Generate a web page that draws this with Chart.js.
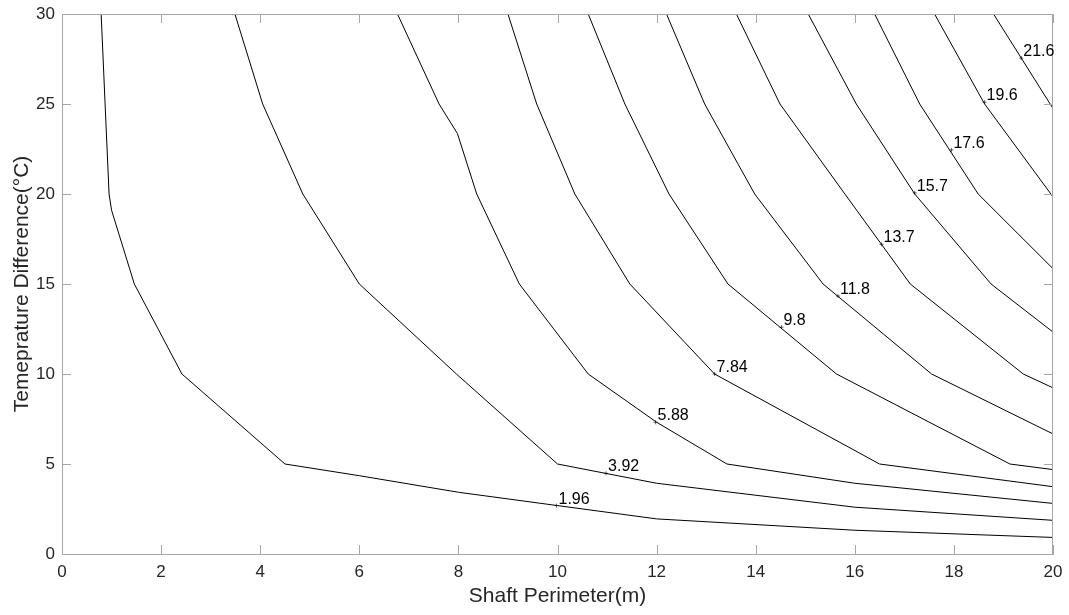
<!DOCTYPE html>
<html><head><meta charset="utf-8">
<script src="https://cdn.jsdelivr.net/npm/chart.js@4/dist/chart.umd.min.js"></script>
<style>html,body{margin:0;padding:0;background:#fff;}#wrap{width:1069px;height:615px;}</style>
</head><body><div id="wrap"><canvas id="c" width="1069" height="615"></canvas></div>
<script>
// Contour levels (labels)
const levels = ['1.96','3.92','5.88','7.84','9.8','11.8','13.7','15.7','17.6','19.6','21.6'];

// Contour polylines: x = shaft perimeter (m), y = temperature difference (°C)
const c1x = [0.79, 0.87, 0.95, 1.0, 1.46, 2.42, 4.5, 6, 8, 10, 12, 16, 20];
const c1y = [30, 25, 20, 19.1, 15, 10, 5, 4.35, 3.43, 2.69, 1.95, 1.32, 0.92];
const c2x = [3.49, 4.05, 4.86, 6.0, 7.96, 10.0, 12.0, 16.0, 20];
const c2y = [30, 25, 20, 15, 10, 5, 3.93, 2.6, 1.87];
const c3x = [6.77, 7.61, 7.98, 8.37, 9.23, 10.62, 12.0, 13.42, 16.0, 20];
const c3y = [30, 25, 23.36, 20, 15, 10, 7.32, 5, 3.93, 2.81];
const c4x = [9.0, 9.58, 10.35, 11.46, 13.17, 16.5, 20];
const c4y = [30, 25, 20, 15, 10, 5, 3.74];
const c5x = [10.62, 11.36, 12.25, 13.44, 15.63, 19.13, 20];
const c5y = [30, 25, 20, 15, 10, 5, 4.69];
const c6x = [12.2, 12.97, 13.98, 15.36, 17.55, 20];
const c6y = [30, 25, 20, 15, 10, 6.67];
const c7x = [13.61, 14.49, 15.8, 17.12, 19.4, 20];
const c7y = [30, 25, 20, 15, 10, 9.23];
const c8x = [15.06, 16.03, 17.21, 18.75, 20];
const c8y = [30, 25, 20, 15, 12.33];
const c9x = [16.4, 17.31, 18.49, 20];
const c9y = [30, 25, 20, 15.85];
const c10x = [17.61, 18.62, 20];
const c10y = [30, 25, 19.84];
const c11x = [18.8, 20];
const c11y = [30, 24.75];

// Contour label anchor points (data units)
const labelX = [9.98, 10.98, 11.98, 13.17, 14.52, 15.66, 16.54, 17.21, 17.95, 18.62, 19.36];
const labelY = [2.69, 4.48, 7.32, 10, 12.6, 14.33, 17.2, 20.06, 22.45, 25.1, 27.55];

// Axis ticks
const xTicks = [0, 2, 4, 6, 8, 10, 12, 14, 16, 18, 20];
const yTicks = [0, 5, 10, 15, 20, 25, 30];

const lineXs = [c1x, c2x, c3x, c4x, c5x, c6x, c7x, c8x, c9x, c10x, c11x];
const lineYs = [c1y, c2y, c3y, c4y, c5y, c6y, c7y, c8y, c9y, c10y, c11y];

const FONT = '"Liberation Sans", Arial, Helvetica, sans-serif';
const AXIS_COLOR = '#a6a6a6';
const TEXT_COLOR = '#262626';

const datasets = lineXs.map((xs, i) => ({
  label: levels[i],
  data: xs.map((x, j) => ({x: x, y: lineYs[i][j]})),
  showLine: true,
  borderColor: '#000',
  borderWidth: 1,
  pointRadius: 0,
  tension: 0,
  fill: false
}));

const framePlugin = {
  id: 'frame',
  afterDatasetsDraw(chart) {
    const {ctx, chartArea: a, scales: {x, y}} = chart;
    ctx.save();
    ctx.strokeStyle = AXIS_COLOR;
    ctx.lineWidth = 1;
    ctx.beginPath();
    // top & right box lines
    ctx.moveTo(a.left, a.top + 0.5); ctx.lineTo(a.right, a.top + 0.5);
    ctx.moveTo(a.right - 0.5, a.top); ctx.lineTo(a.right - 0.5, a.bottom);
    const tl = 9;
    xTicks.forEach(v => {
      const px = Math.round(x.getPixelForValue(v)) + 0.5;
      ctx.moveTo(px, a.bottom); ctx.lineTo(px, a.bottom - tl);
      ctx.moveTo(px, a.top); ctx.lineTo(px, a.top + tl);
    });
    yTicks.forEach(v => {
      const py = Math.round(y.getPixelForValue(v)) + 0.5;
      ctx.moveTo(a.left, py); ctx.lineTo(a.left + tl, py);
      ctx.moveTo(a.right, py); ctx.lineTo(a.right - tl, py);
    });
    ctx.stroke();
    // contour labels
    ctx.fillStyle = '#000';
    ctx.strokeStyle = '#000';
    ctx.font = '16px ' + FONT;
    ctx.textAlign = 'left';
    ctx.textBaseline = 'alphabetic';
    levels.forEach((t, i) => {
      const px = x.getPixelForValue(labelX[i]);
      const py = y.getPixelForValue(labelY[i]);
      ctx.beginPath();
      ctx.lineWidth = 0.6;
      ctx.moveTo(px - 2, py); ctx.lineTo(px + 2, py);
      ctx.moveTo(px, py - 2); ctx.lineTo(px, py + 2);
      ctx.stroke();
      ctx.fillText(t, px + 2, py - 2);
    });
    ctx.restore();
  }
};

new Chart(document.getElementById('c'), {
  type: 'scatter',
  data: {datasets},
  options: {
    responsive: false,
    animation: false,
    layout: {padding: {top: 14, right: 16, bottom: 0, left: 0}},
    plugins: {legend: {display: false}, tooltip: {enabled: false}},
    scales: {
      x: {
        type: 'linear', min: 0, max: 20,
        afterBuildTicks: s => { s.ticks = xTicks.map(v => ({value: v})); },
        afterFit: s => { s.height = 61; s.paddingLeft = 0; s.paddingRight = 0; },
        ticks: {autoSkip: false, maxRotation: 0, padding: 8, color: TEXT_COLOR, font: {family: FONT, size: 17}},
        grid: {display: true, drawOnChartArea: false, drawTicks: false},
        border: {display: true, color: AXIS_COLOR, width: 1},
        title: {display: true, text: 'Shaft Perimeter(m)', color: TEXT_COLOR, font: {family: FONT, size: 21}, padding: {top: 0, bottom: 6}}
      },
      y: {
        type: 'linear', min: 0, max: 30,
        afterBuildTicks: s => { s.ticks = yTicks.map(v => ({value: v})); },
        afterFit: s => { s.width = 62; s.paddingTop = 0; s.paddingBottom = 0; },
        ticks: {autoSkip: false, padding: 7, color: TEXT_COLOR, font: {family: FONT, size: 17}},
        grid: {display: true, drawOnChartArea: false, drawTicks: false},
        border: {display: true, color: AXIS_COLOR, width: 1},
        title: {display: true, text: 'Temeprature Difference(°C)', color: TEXT_COLOR, font: {family: FONT, size: 21}, padding: {top: 10, bottom: 0}}
      }
    }
  },
  plugins: [framePlugin]
});
</script></body></html>
